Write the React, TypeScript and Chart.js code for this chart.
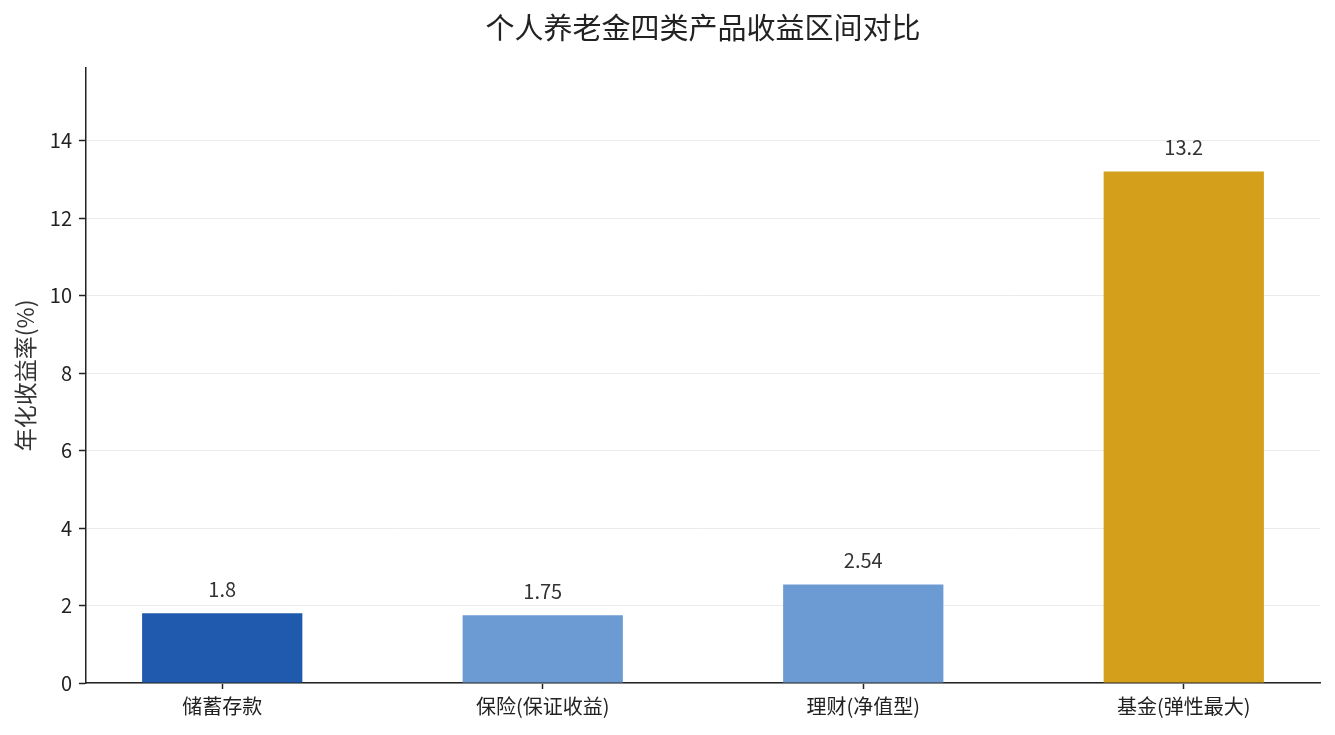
import { useEffect, useRef } from 'react';
import { Chart, registerables } from 'chart.js';

Chart.register(...registerables);

const categories = ['储蓄存款', '保险(保证收益)', '理财(净值型)', '基金(弹性最大)'];
const returns = [1.8, 1.75, 2.54, 13.2];
const barColors = ['#1f5aae', '#6c9bd3', '#6c9bd3', '#d4a01b'];
const yTicks = [0, 2, 4, 6, 8, 10, 12, 14];
const yMax = 15.88;

const FONT = "'Noto Sans CJK SC', 'Noto Sans', sans-serif";

// value labels above each bar
const valueLabels = {
  id: 'valueLabels',
  afterDatasetsDraw(chart: Chart) {
    const ctx = chart.ctx;
    const meta = chart.getDatasetMeta(0);
    ctx.save();
    ctx.font = `20px ${FONT}`;
    ctx.fillStyle = '#333333';
    ctx.textAlign = 'center';
    ctx.textBaseline = 'middle';
    meta.data.forEach((bar: any, i: number) => {
      ctx.fillText(String(returns[i]), bar.x, bar.y - 24);
    });
    ctx.restore();
  },
};

export default function App() {
  const chartRef = useRef<HTMLCanvasElement>(null);
  const chartInstance = useRef<Chart | null>(null);

  useEffect(() => {
    if (!chartRef.current) return;
    const ctx = chartRef.current.getContext('2d');
    if (!ctx) return;
    if (chartInstance.current) chartInstance.current.destroy();

    chartInstance.current = new Chart(ctx, {
      type: 'bar',
      data: {
        datasets: [
          {
            label: '年化收益率',
            data: returns.map((v, i) => ({ x: i, y: v })),
            backgroundColor: barColors,
            borderWidth: 0,
            barPercentage: 0.5,
            categoryPercentage: 1,
          },
        ],
      },
      options: {
        responsive: true,
        maintainAspectRatio: false,
        animation: false,
        layout: { padding: { left: 0, right: 15, top: 0, bottom: 0 } },
        plugins: {
          legend: { display: false },
          tooltip: { enabled: false },
          title: {
            display: true,
            text: '个人养老金四类产品收益区间对比',
            fullSize: false,
            color: '#222222',
            font: { family: FONT, size: 29, weight: 'normal' },
            padding: { top: 11, bottom: 22 },
          },
        },
        scales: {
          x: {
            type: 'linear',
            min: -0.425,
            max: categories.length - 1 + 0.425,
            offset: false,
            afterBuildTicks: (scale: any) => {
              scale.ticks = categories.map((_, i) => ({ value: i }));
            },
            afterFit: (scale: any) => {
              scale.height = 52;
            },
            ticks: {
              color: '#222222',
              font: { family: FONT, size: 20 },
              padding: 5,
              maxRotation: 0,
              autoSkip: false,
              callback: (v: any) => categories[v] ?? '',
            },
            grid: {
              offset: false,
              drawOnChartArea: false,
              drawTicks: true,
              tickLength: 6,
              tickColor: '#222222',
              tickWidth: 1.5,
            },
            border: { color: '#222222', width: 1.5 },
          },
          y: {
            min: 0,
            max: yMax,
            z: 1,
            afterBuildTicks: (scale: any) => {
              scale.ticks = yTicks.map((v) => ({ value: v }));
            },
            afterFit: (scale: any) => {
              scale.width = 86;
            },
            ticks: {
              color: '#222222',
              font: { family: FONT, size: 20 },
              padding: 7,
            },
            grid: {
              color: 'rgba(228, 228, 228, 0.75)',
              lineWidth: 1,
              drawTicks: true,
              tickLength: 7,
              tickColor: '#222222',
              tickWidth: 1.5,
            },
            border: { color: '#222222', width: 1.5 },
            title: {
              display: true,
              text: '年化收益率(%)',
              color: '#333333',
              font: { family: FONT, size: 23 },
              padding: { top: 11, bottom: 0 },
            },
          },
        },
      },
      plugins: [valueLabels],
    });

    return () => {
      if (chartInstance.current) {
        chartInstance.current.destroy();
        chartInstance.current = null;
      }
    };
  }, []);

  return (
    <div style={{ position: 'absolute', left: 0, top: 0, width: 1335, height: 735, background: '#ffffff' }}>
      <canvas ref={chartRef} />
    </div>
  );
}
